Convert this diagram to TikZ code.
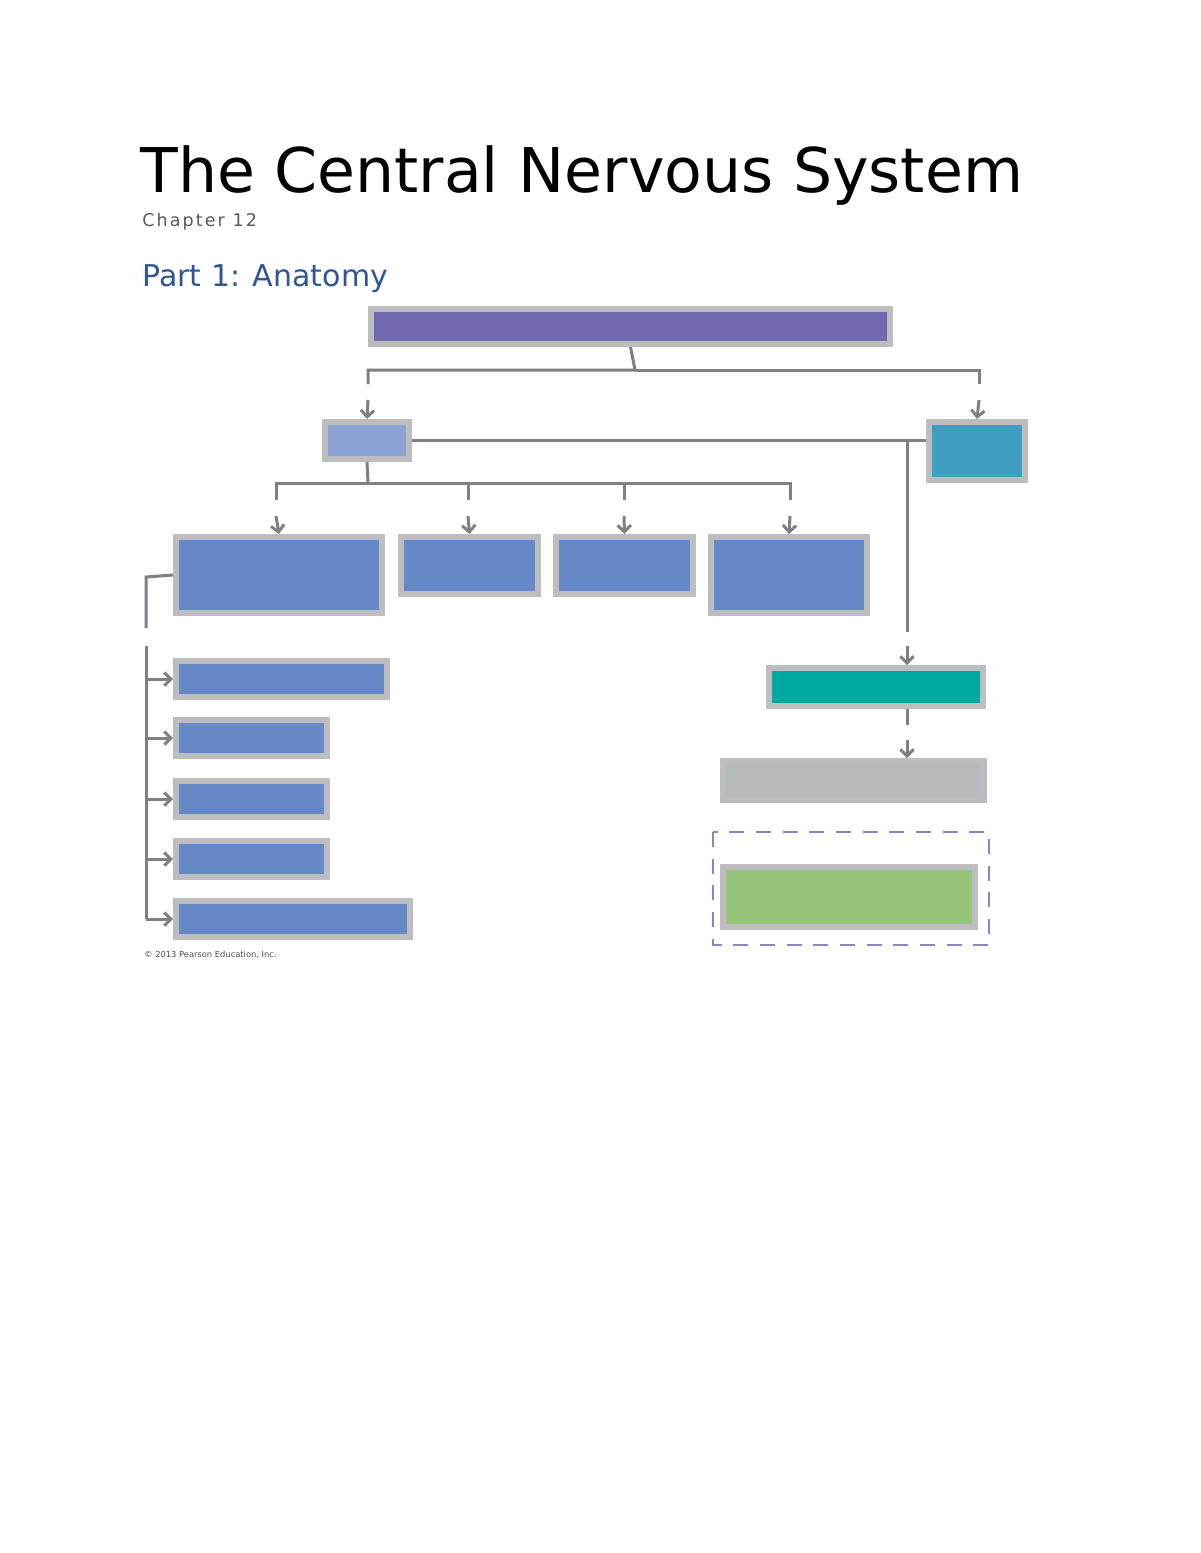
\documentclass[tikz,border=0pt]{standalone}
\usepackage{fontspec}
\setmainfont{DejaVu Sans}
\usetikzlibrary{arrows.meta}
\definecolor{wiregray}{HTML}{7F7F85}
\definecolor{rimgray}{HTML}{BDBDC0}
\definecolor{cnspurple}{HTML}{7069AF}
\definecolor{brainblue}{HTML}{8CA2D5}
\definecolor{cordblue}{HTML}{3F9DBF}
\definecolor{partblue}{HTML}{6588C6}
\definecolor{tealbox}{HTML}{00A99D}
\definecolor{graybox}{HTML}{B7BABD}
\definecolor{greenbox}{HTML}{97C37B}
\definecolor{dashblue}{HTML}{8A86C6}
\definecolor{headblue}{HTML}{2F5597}
\tikzset{
  panel/.style={draw=rimgray,line width=3.6pt,inner sep=0pt},
  wire/.style={draw=wiregray,line width=1.8pt},
  tip/.style={wire,-{Straight Barb[length=4pt,width=8pt]}},
}
% box given by outer pixel corners
\newcommand\panelbox[6]{%
  \node[panel,fill=#2,minimum width={(#5-#3-6)*0.6pt},minimum height={(#6-#4-6)*0.6pt}]
    (#1) at ({(#3+#5)/2},{(#4+#6)/2}) {};}
\begin{document}
\begin{tikzpicture}[x=0.6pt,y=-0.6pt]
\useasboundingbox[fill=white] (0,0) rectangle (1200,1553);
%
\node[anchor=base west,inner sep=0pt,font=\fontsize{37}{40}\selectfont] (title) at (140,192) {The Central Nervous System};
\node[anchor=base west,inner sep=0pt,text=black!65,font=\fontsize{10.5}{12}\selectfont\addfontfeature{LetterSpace=12}] (chap) at (142,226) {Chapter 12};
\node[anchor=base west,inner sep=0pt,text=headblue,font=\fontsize{18}{20}\selectfont] (part) at (142,286) {Part 1: Anatomy};
%
\panelbox{cns}{cnspurple}{368}{306}{893}{347}
\panelbox{brain}{brainblue}{322}{419}{412}{462}
\panelbox{cord}{cordblue}{926}{419}{1028}{483}
\panelbox{pa}{partblue}{173}{534}{385}{616}
\panelbox{pb}{partblue}{398}{534}{541}{597}
\panelbox{pc}{partblue}{553}{534}{696}{597}
\panelbox{pd}{partblue}{708}{534}{870}{616}
\panelbox{la}{partblue}{173}{658}{390}{700}
\panelbox{lb}{partblue}{173}{717}{330}{759}
\panelbox{lc}{partblue}{173}{778}{330}{820}
\panelbox{ld}{partblue}{173}{838}{330}{880}
\panelbox{le}{partblue}{173}{898}{413}{940}
\panelbox{mening}{tealbox}{766}{665}{986}{709}
\panelbox{csf}{graybox}{720}{758}{987}{803}
\panelbox{barrier}{greenbox}{720}{864}{978}{930}
\draw[dashblue,line width=1pt,dash pattern=on 9pt off 7pt] (713,832) rectangle (989,945);
%
\coordinate (drop) at (907,442);
\coordinate (spine) at (146,646);
%
\draw[wire] (cns.south) -- (635,370) -- (368,370) -- (368,384);
\draw[wire] (635,370) -- (979,370) -- (979,384);
\draw[tip] (368,400) -- (brain.north);
\draw[tip] (979,400) -- (cord.north);
%
\draw[wire] (brain.east) -- (brain.east -| cord.west);
\draw[wire] (drop) -- (907,632);
\draw[tip] (907,646) -- (drop |- mening.north);
\draw[wire] (drop |- mening.south) -- (907,725);
\draw[tip] (907,740) -- (drop |- csf.north);
%
\draw[wire] (brain.south) -- (368,483);
\draw[wire] (276,500) -- (276,483) -- (790,483) -- (790,500);
\foreach \xx in {468,624} \draw[wire] (\xx,483) -- (\xx,500);
\draw[tip] (276,516) -- (pa.north);
\draw[tip] (468,516) -- (pb.north);
\draw[tip] (624,516) -- (pc.north);
\draw[tip] (790,516) -- (pd.north);
%
\draw[wire] (pa.west) -- (146,577) -- (146,628);
\draw[wire] (spine) -- (146,919);
\foreach \nn in {la,lb,lc,ld,le} \draw[tip] (spine |- \nn.west) -- (\nn.west);
%
\node[anchor=west,inner sep=0pt,font=\fontsize{5}{6}\selectfont,text=black!70] (copy) at (144,955) {© 2013 Pearson Education, Inc.};
\end{tikzpicture}
\end{document}
